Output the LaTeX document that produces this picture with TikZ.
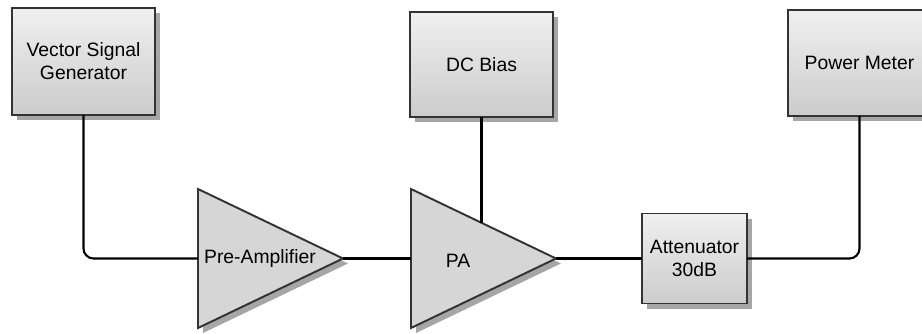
\documentclass[tikz,border=0pt]{standalone}
\usepackage{fontspec}
\setmainfont{Liberation Sans}
\usetikzlibrary{shapes.geometric,shadows,calc}

\begin{document}
\begin{tikzpicture}[
  block/.style={
    rectangle,
    draw=black!80,
    line width=1.1pt,
    top color=black!6,
    bottom color=black!20,
    drop shadow={shadow xshift=0.1cm,shadow yshift=-0.1cm,fill=black!35,opacity=1},
    minimum width=2.86cm,
    inner sep=0pt,
    outer sep=0pt,
    align=center,
    font=\fontsize{11}{13}\selectfont
  },
  amp/.style={
    isosceles triangle,
    isosceles triangle stretches,
    shape border rotate=0,
    draw=black!80,
    line width=1.1pt,
    fill=black!16,
    drop shadow={shadow xshift=0.1cm,shadow yshift=-0.1cm,fill=black!35,opacity=1},
    minimum width=2.78cm,
    minimum height=2.9cm,
    inner sep=0pt,
    outer sep=0pt,
    anchor=lower side
  },
  tag/.style={
    inner sep=1pt,
    font=\fontsize{11}{13}\selectfont
  },
  wire/.style={
    line width=1.2pt,
    rounded corners=0.2cm
  }
]

\clip (0,0) rectangle (18.44,6.66);

\node[block, minimum height=2.14cm] (vsg) at (1.67,5.43) {Vector Signal\\Generator};
\node[block, minimum height=2.10cm] (bias) at (9.63,5.37) {DC Bias};
\node[block, minimum height=2.12cm] (pm) at (17.19,5.40) {Power Meter};
\node[block, minimum width=2.10cm, minimum height=1.80cm] (att) at (13.89,1.49)
  {Attenuator\\30dB};

\node[amp] (pre) at (3.96,1.49) {};
\node[amp] (pa) at (8.22,1.49) {};

\node[tag] (pretext) at ($(pre.lower side)+(1.24,0)$) {Pre-Amplifier};
\node[tag] (patext) at ($(pa.lower side)+(0.94,-0.04)$) {PA};

\coordinate (biasin) at ($(pa.left corner)!0.49!(pa.apex)$);

\draw[wire] (vsg.south) |- (pre.lower side);
\draw[wire] (pre.apex) -- (pa.lower side);
\draw[wire] (bias.south) -- (bias.south |- biasin);
\draw[wire] (pa.apex) -- (att.west);
\draw[wire] (att.east) -| (pm.south);

\end{tikzpicture}
\end{document}
